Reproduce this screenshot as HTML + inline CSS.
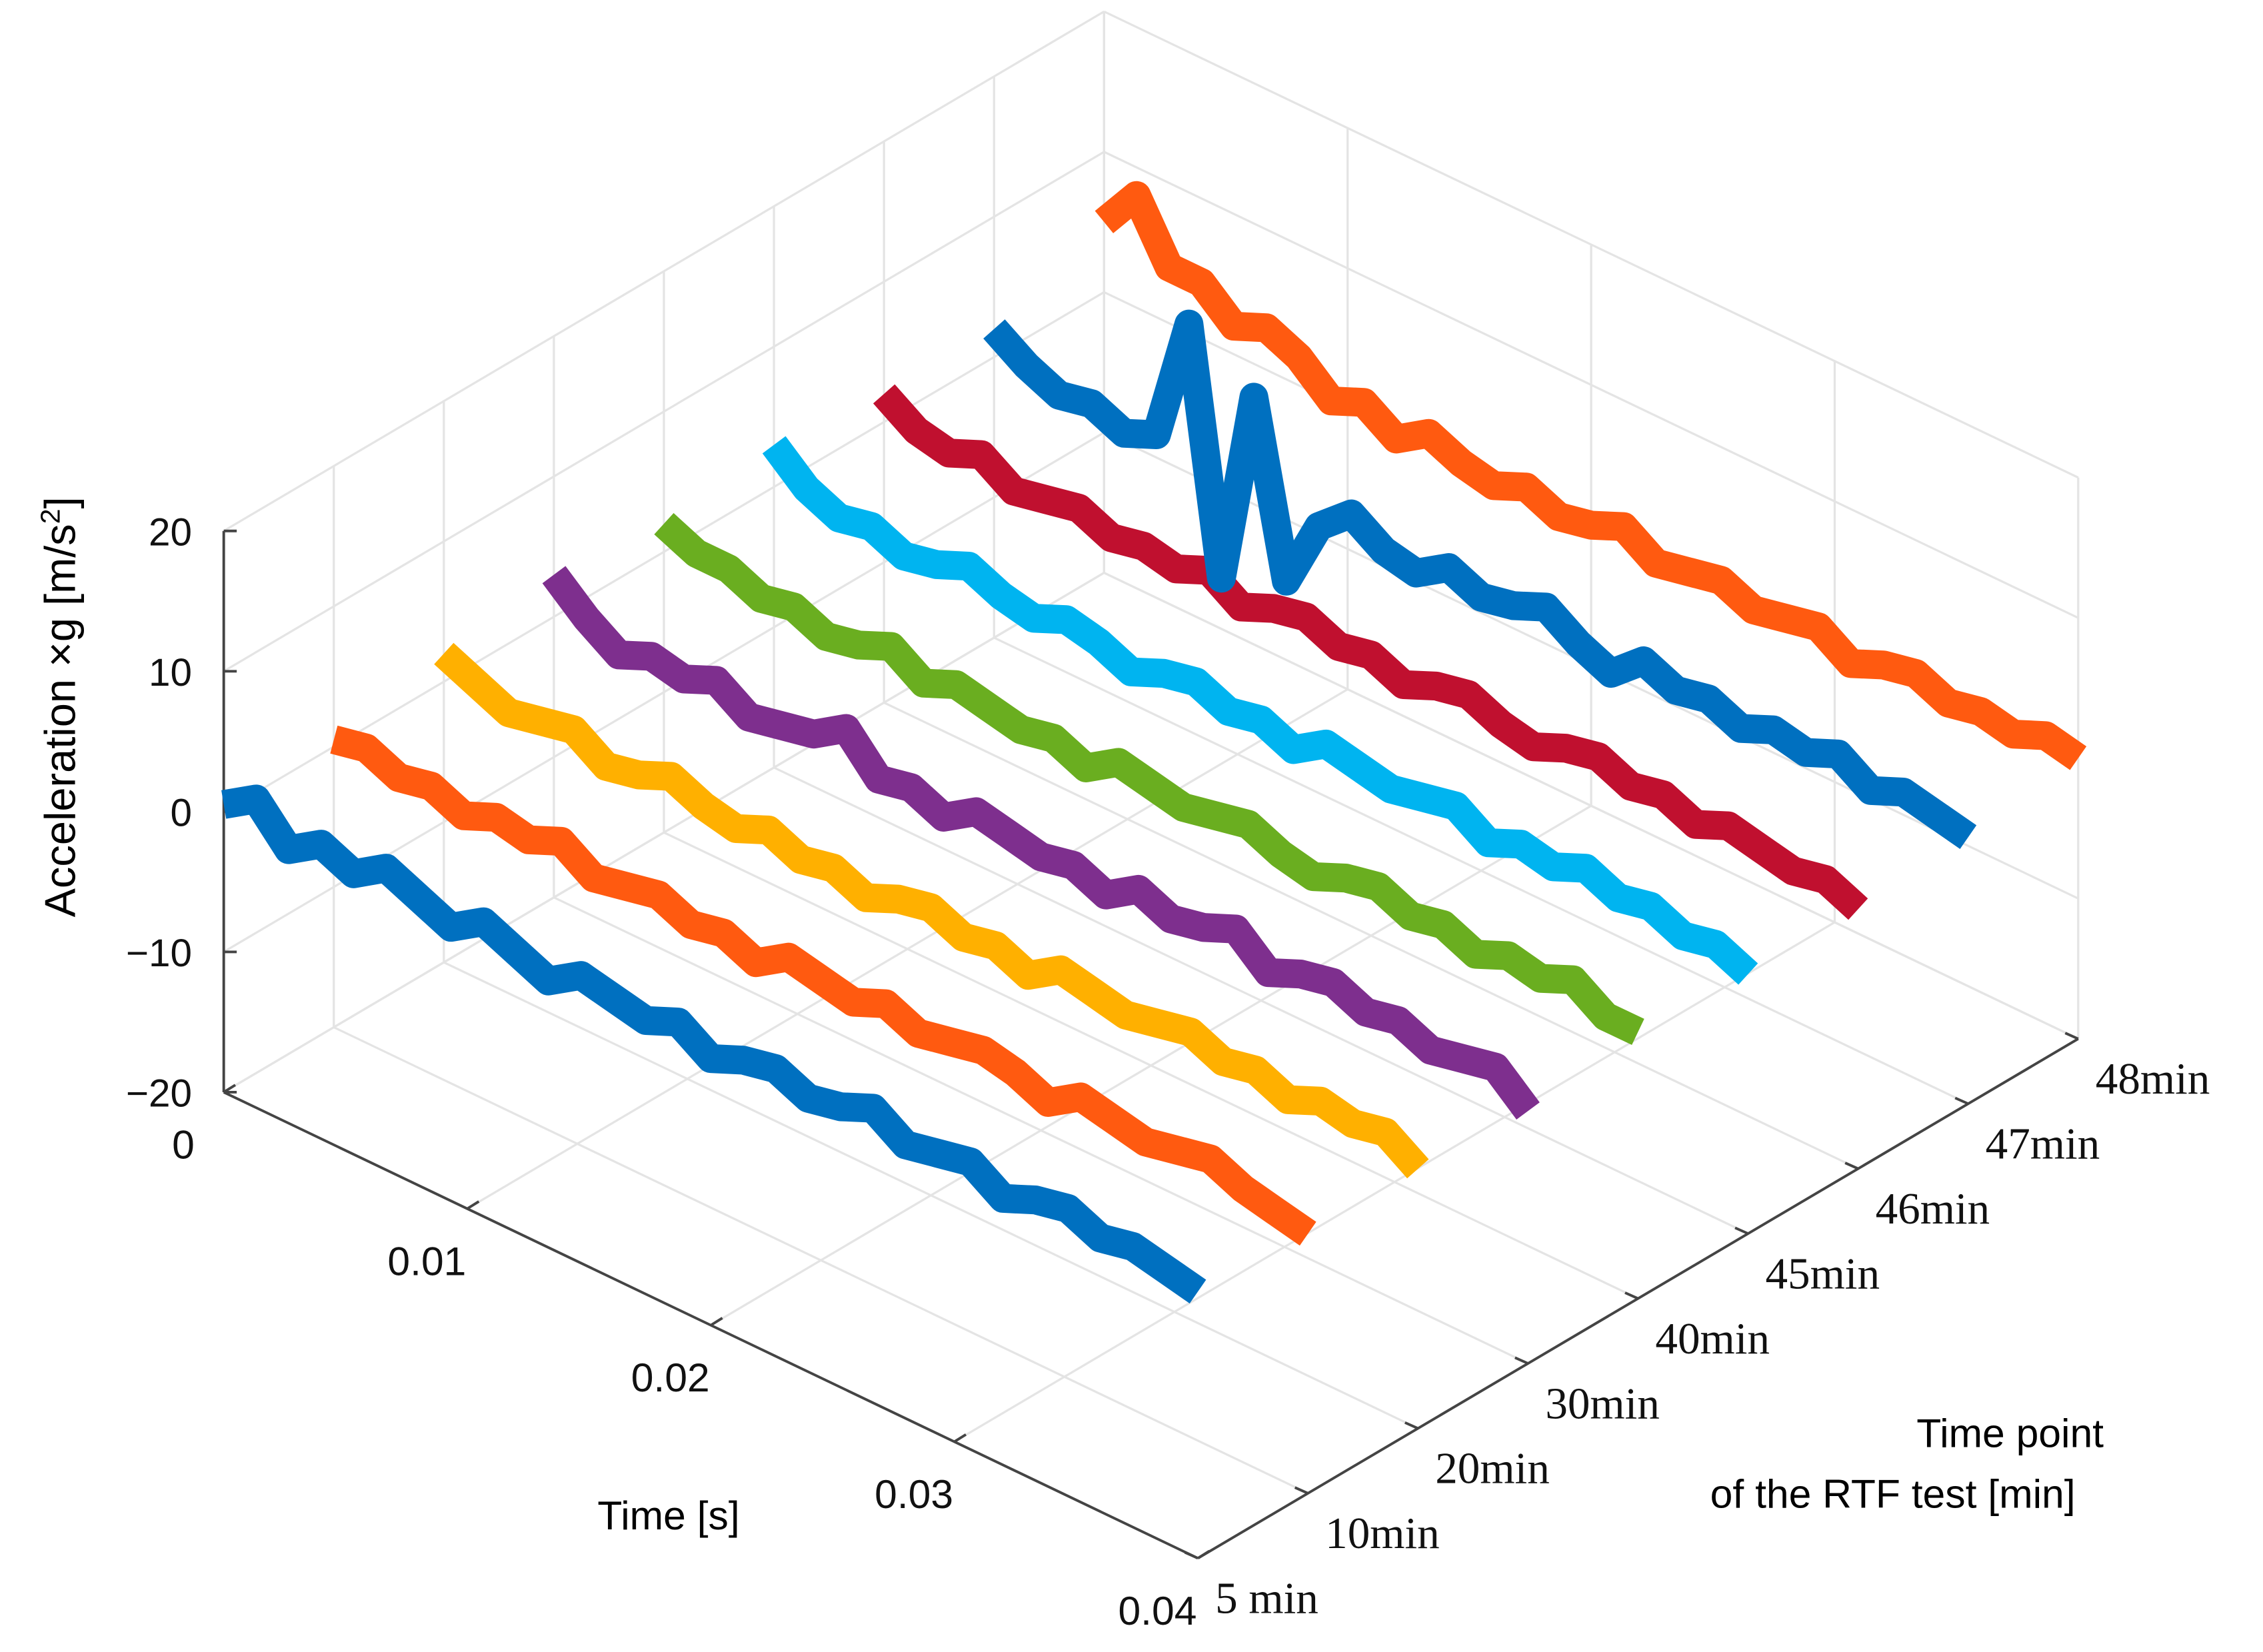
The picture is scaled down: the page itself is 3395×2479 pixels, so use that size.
<!DOCTYPE html>
<html><head><meta charset="utf-8"><style>
html,body{margin:0;padding:0;background:#fff;}
svg{display:block;}
.sans{font-family:"Liberation Sans",sans-serif;}
.serif{font-family:"Liberation Serif",serif;}
</style></head><body>
<svg id="chart" width="3395" height="2479" viewBox="0 0 1568 1145" xmlns="http://www.w3.org/2000/svg">
<g id="grid"></g>
<g id="axes"></g>
<g id="series"></g>
<text class="sans" font-size="30" text-anchor="middle" transform="translate(52,490) rotate(-90)">Acceleration ×g [m/s<tspan baseline-shift="super" font-size="19">2</tspan>]</text>
<text class="sans" font-size="28" x="414" y="1060">Time [s]</text>
<text class="sans" font-size="28" x="1328" y="1003">Time point</text>
<text class="sans" font-size="28" x="1185" y="1045">of the RTF test [min]</text>
</svg>
<script>
const timeTicks=[0,0.01,0.02,0.03,0.04];
const timeTickLabels=["0","0.01","0.02","0.03","0.04"];
const zTicks=[-20,-10,0,10,20];
const zTickLabels=["\u221220","\u221210","0","10","20"];
const minuteLabels=["5 min","10min","20min","30min","40min","45min","46min","47min","48min"];
const seriesColors=["#0070C0","#FF5A10","#FFB000","#7E2F8E","#6AAE20","#00B4F0","#C0102F","#0070C0","#FF5A10"];
const s0=[0.5,2,-0.5,1,0,1.5,0.5,-0.5,1,0,-1,0.5,0,-0.5,0.5,-1,0,0.5,-0.5,0,1,-0.5,0,0.5,-1,0,0.5,-0.5,0,-0.5,-1];
const s1=[0.5,1,0,0.5,-0.5,0.5,0,1,-0.5,0,0.5,-0.5,0,-1,0.5,0,-0.5,0.5,-0.5,0,0.5,0,-1,0.5,0,-0.5,0,0.5,-0.5,-1,-1.5];
const s2=[2,1,0,0.5,1,-0.5,0,1,0,-0.5,0.5,-0.5,0,-1,0,0.5,-0.5,0,-1,0.5,0,-0.5,0,0.5,-0.5,0,-1,0,-0.5,0,-1.5];
const s3=[3,1,-0.5,0.5,0,1,-0.5,0,0.5,2,-0.5,0,-1,0.5,0,-0.5,0,-1,0.5,-0.5,0,1,-1,0,0.5,-0.5,0,-1,-0.5,0,-2];
const s4=[2,1,1,0,0.5,-0.5,0,1,-0.5,0.5,0,-0.5,0,-1,0.5,0,-0.5,0,0.5,-0.5,-1,0,0.5,-0.5,0,-1,0,-0.5,0.5,-1,-1];
const s5=[3,1,0,0.5,-0.5,0,1,0,-0.5,0.5,0,-1,0,0.5,-0.5,0,-1,0.5,0,-0.5,0,0.5,-1,0,-0.5,0.5,-0.5,0,-1,-0.5,-1.5];
const s6=[2,0.5,0,1,-0.5,0,0.5,-0.5,0,-0.5,0.5,-1,0,0.5,-0.5,0,-1,0,0.5,-0.5,-1,0,0.5,-0.5,0,-1,0,-0.5,-1,-0.5,-1.5];
const s7=[2,0.5,-0.5,0,-1,0,9,-8,6,-6,-1,1,-0.5,-1,0.5,-0.5,0,1,-0.5,-1.5,0.5,-0.5,0,-1,0,-0.5,0.5,-1,0,-0.5,-1];
const s8=[5,8,4,4,2,3,2,0,1,-0.5,1,0,-0.5,0.5,-0.5,0,1,-0.5,0,0.5,-0.5,0,0.5,-1,0,0.5,-0.5,0,-0.5,0.5,0];
const seriesValues=[s0,s1,s2,s3,s4,s5,s6,s7,s8];

const NS="http://www.w3.org/2000/svg";
const O=[155,757], TV=[675,323], MV=[610,-360], ZH=389;
function tFrac(t){return t/0.04;}
function mFrac(i){return i/(minuteLabels.length-1);}
function zFrac(z){return (z+20)/40;}
function P(tf,mf,zf){return [O[0]+TV[0]*tf+MV[0]*mf, O[1]+TV[1]*tf+MV[1]*mf-ZH*zf];}
function mk(tag,attrs,parent){const e=document.createElementNS(NS,tag);for(const k in attrs)e.setAttribute(k,attrs[k]);parent.appendChild(e);return e;}
const grid=document.getElementById('grid'),axes=document.getElementById('axes'),ser=document.getElementById('series');
const gc="#e4e4e4";
function line(a,b,par,c,w,name){const e=mk('line',{x1:a[0],y1:a[1],x2:b[0],y2:b[1],stroke:c,'stroke-width':w},par);

return e;}
minuteLabels.forEach((l,i)=>{line(P(0,mFrac(i),0),P(0,mFrac(i),1),grid,gc,1.5,'grid-line');line(P(0,mFrac(i),0),P(1,mFrac(i),0),grid,gc,1.5,'grid-line');});
zTicks.forEach(z=>{line(P(0,0,zFrac(z)),P(0,1,zFrac(z)),grid,gc,1.5,'grid-line');line(P(0,1,zFrac(z)),P(1,1,zFrac(z)),grid,gc,1.5,'grid-line');});
timeTicks.forEach(t=>{line(P(tFrac(t),1,0),P(tFrac(t),1,1),grid,gc,1.5,'grid-line');line(P(tFrac(t),0,0),P(tFrac(t),1,0),grid,gc,1.5,'grid-line');});
const ac="#444";
line(P(0,0,0),P(0,0,1),axes,ac,1.8,'z-axis');
line(P(0,0,0),P(1,0,0),axes,ac,1.8,'x-axis');
line(P(1,0,0),P(1,1,0),axes,ac,1.8,'y-axis');
function txt(x,y,s,cls,size,anchor,name){const e=mk('text',{x:x,y:y,'font-size':size,'text-anchor':anchor,class:cls,fill:'#111'},axes);e.textContent=s;

return e;}
zTicks.forEach((z,i)=>{const p=P(0,0,zFrac(z));line(p,[p[0]+9,p[1]],axes,ac,1.8,'z-tick');txt(p[0]-22,p[1]+10,zTickLabels[i],'sans',27,'end','z-tick-label');});
timeTicks.forEach((t,i)=>{const p=P(tFrac(t),0,0);line(p,[p[0]+8,p[1]-5],axes,ac,1.8,'x-tick');txt(p[0]-28,p[1]+46,timeTickLabels[i],'sans',28,'middle','x-tick-label');});
minuteLabels.forEach((l,i)=>{const p=P(1,mFrac(i),0);line(p,[p[0]-9,p[1]-4],axes,ac,1.8,'y-tick');txt(p[0]+12,p[1]+38,l,'serif',31,'start','y-tick-label');});
seriesValues.forEach((vals,si)=>{const n=vals.length;let d='';
vals.forEach((v,k)=>{const p=P(k/(n-1),mFrac(si),zFrac(v));d+=(k?'L':'M')+p[0].toFixed(1)+','+p[1].toFixed(1);});
const e=mk('path',{d:d,fill:'none',stroke:seriesColors[si],'stroke-width':20,'stroke-linejoin':'round','stroke-linecap':'butt'},ser);

});
</script>
</body></html>
